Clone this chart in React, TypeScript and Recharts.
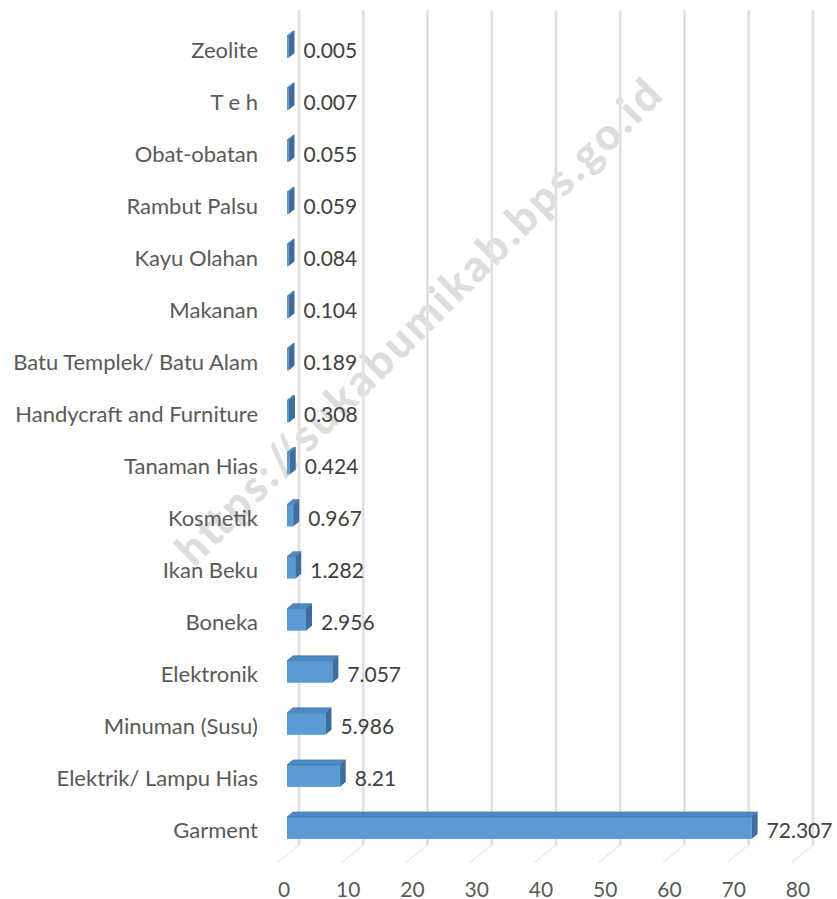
import * as React from "react";
import { BarChart, Bar, XAxis, YAxis, CartesianGrid } from "recharts";

const categories = [
  "Zeolite", "T e h", "Obat-obatan", "Rambut Palsu", "Kayu Olahan", "Makanan",
  "Batu Templek/ Batu Alam", "Handycraft and Furniture", "Tanaman Hias", "Kosmetik",
  "Ikan Beku", "Boneka", "Elektronik", "Minuman (Susu)", "Elektrik/ Lampu Hias", "Garment",
];
const values = [
  0.005, 0.007, 0.055, 0.059, 0.084, 0.104, 0.189, 0.308, 0.424, 0.967,
  1.282, 2.956, 7.057, 5.986, 8.21, 72.307,
];
const xTicks = [0, 10, 20, 30, 40, 50, 60, 70, 80];

const FONT = "Lato, 'Open Sans', sans-serif";
const FRONT = "#5b9bd5";
const TOP = "#4d89c4";
const SIDE = "#3d6e9c";
const DX = 6; // depth of the 3d boxes
const DY = 5;

const data = categories.map((name, i) => ({ name, value: values[i] }));

function Box3D(props: any) {
  const { x, y, height } = props;
  if (x == null || y == null) return <g />;
  const w = Math.max(props.width, 1.5);
  const r = x + w;
  return (
    <g>
      <rect x={x} y={y} width={w} height={height} fill={FRONT} />
      <polygon points={`${x},${y} ${x + DX},${y - DY} ${r + DX},${y - DY} ${r},${y}`} fill={TOP} stroke="#3a6d9e" strokeWidth={0.6} />
      <polygon points={`${r},${y} ${r + DX},${y - DY} ${r + DX},${y + height - DY} ${r},${y + height}`} fill={SIDE} />
    </g>
  );
}

function GridLine(props: any) {
  const { x1, y1, y2, index } = props;
  const bx = x1 + 12;
  return (
    <g key={`g-${index}`}>
      <line x1={bx} y1={y1 - 11} x2={bx} y2={y2 - 9} stroke="#e8e8e8" strokeWidth={3} />
      <line x1={bx} y1={y1 - 11} x2={bx} y2={y2 - 9} stroke="#d9d9d9" strokeWidth={1} />
      <line x1={bx} y1={y2 - 9} x2={x1 - 9} y2={y2 + 8} stroke="#d9d9d9" strokeWidth={1.5} strokeDasharray="1 1" />
    </g>
  );
}

function CatTick(props: any) {
  const { y, payload } = props;
  return (
    <text x={258} y={y + 2} textAnchor="end" dominantBaseline="central" fontFamily={FONT} fontSize={22} fill="#595959">
      {payload.value}
    </text>
  );
}

function NumTick(props: any) {
  const { x, payload } = props;
  return (
    <text x={x - 3} y={888} textAnchor="middle" dominantBaseline="central" fontFamily={FONT} fontSize={21} fill="#595959">
      {payload.value}
    </text>
  );
}

function ValueLabel(props: any) {
  const { x, y, width, height, value } = props;
  return (
    <text x={x + Math.max(width, 1.5) + 15} y={y + height / 2 + 2} dominantBaseline="central" fontFamily={FONT} fontSize={21} fill="#404040">
      {value}
    </text>
  );
}

export default function App() {
  return (
    <div style={{ position: "absolute", left: 0, top: 0, width: 837, height: 899, background: "#fff" }}>
      <svg width={837} height={899} style={{ position: "absolute", left: 0, top: 0 }}>
        <text
          x={194}
          y={568}
          transform="rotate(-45 194 568)"
          fontFamily={FONT}
          fontWeight={900}
          fontSize={44}
          fill="#dddddd"
          textLength={665}
          lengthAdjust="spacing"
        >
          https://sukabumikab.bps.go.id
        </text>
      </svg>
      <div style={{ position: "absolute", left: 0, top: 0 }}>
        <BarChart
          width={837}
          height={899}
          data={data}
          layout="vertical"
          margin={{ top: 21, right: 36, bottom: 0, left: 0 }}
        >
          <CartesianGrid horizontal={false} vertical={GridLine} />
          <XAxis
            type="number"
            domain={[0, 80]}
            ticks={xTicks}
            axisLine={false}
            tickLine={false}
            tick={NumTick}
            height={45}
          />
          <YAxis
            type="category"
            dataKey="name"
            width={287}
            axisLine={false}
            tickLine={false}
            tick={CatTick}
            interval={0}
          />
          <Bar dataKey="value" barSize={22} shape={Box3D} label={ValueLabel} isAnimationActive={false} />
        </BarChart>
      </div>
    </div>
  );
}
